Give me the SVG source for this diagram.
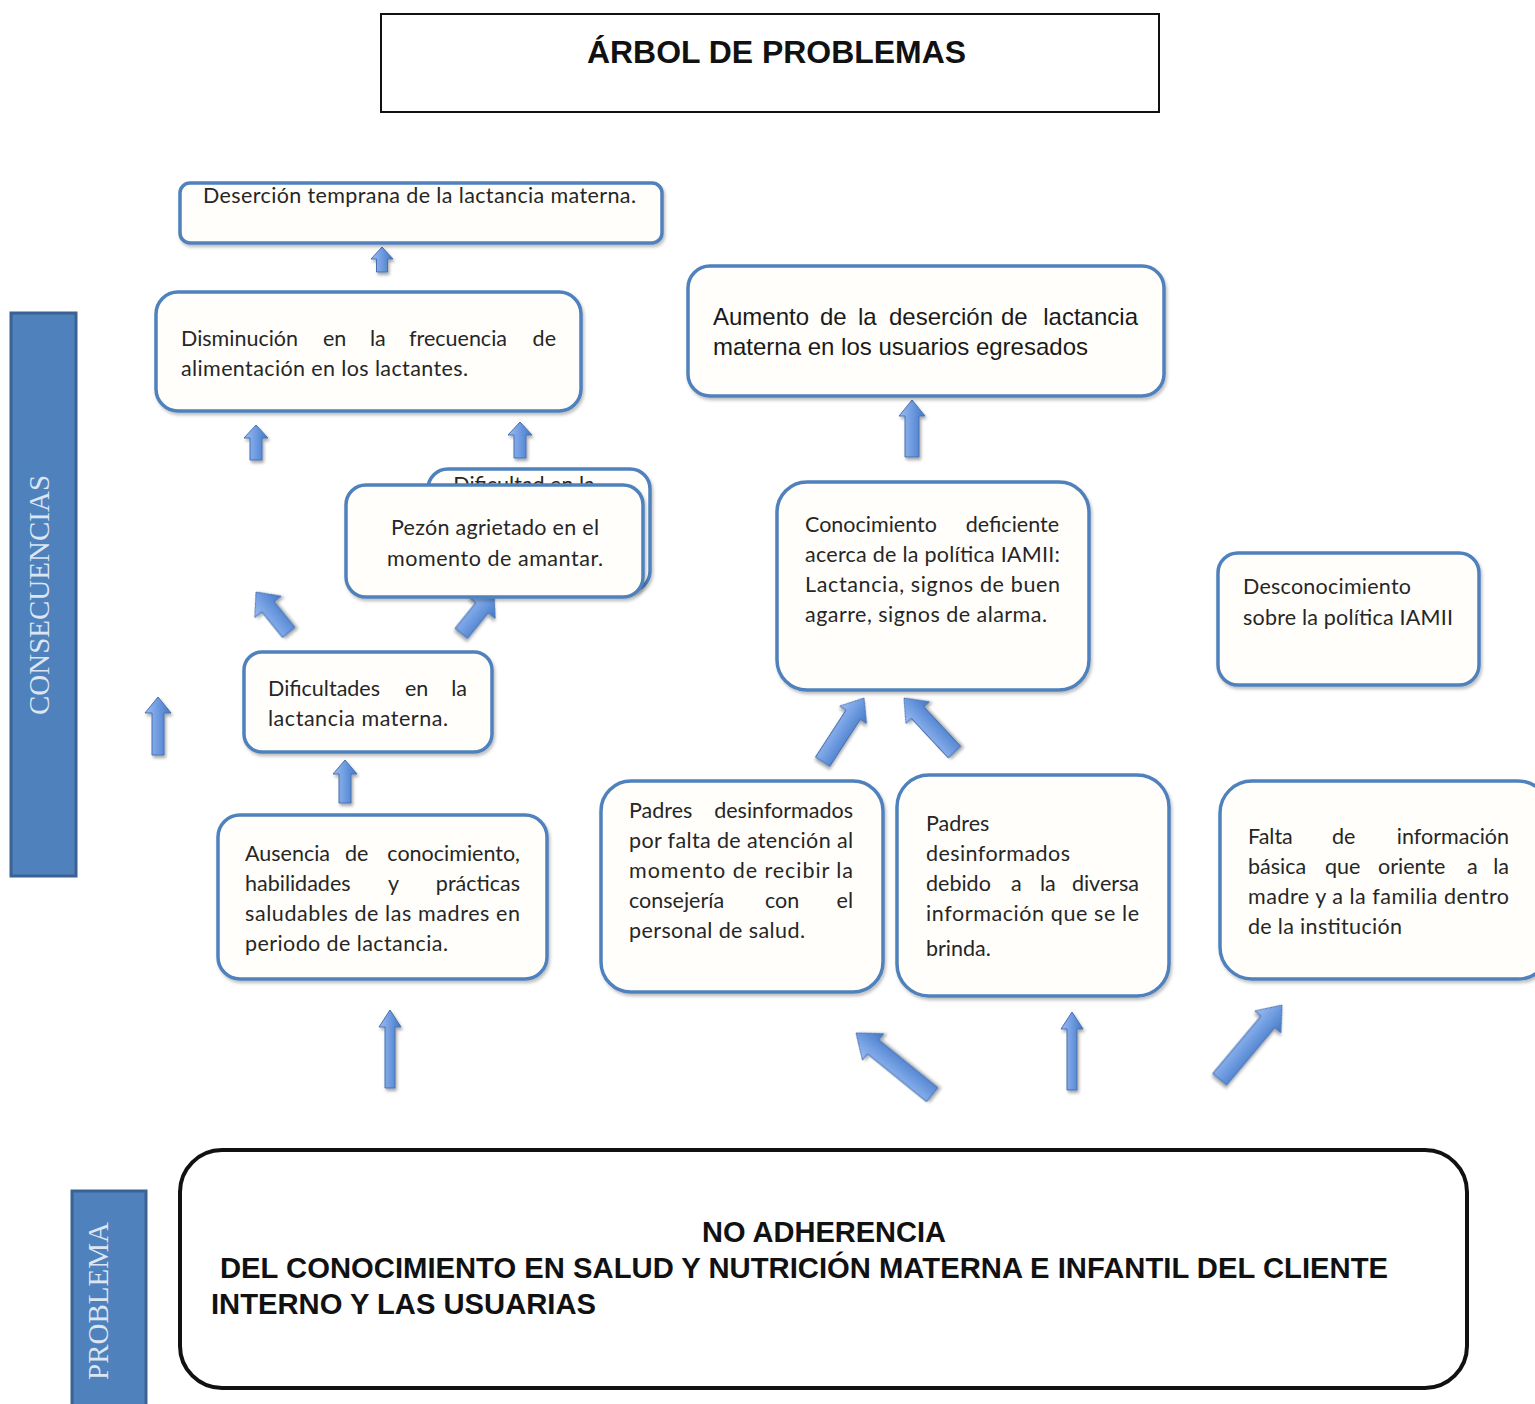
<svg xmlns="http://www.w3.org/2000/svg" width="1535" height="1404" viewBox="0 0 1535 1404">
<defs>
<style>
.box{fill:#FFFEFB;stroke:#4F81BD;stroke-width:3.5;filter:url(#sh)}
.t{font-family:Lato,"Open Sans",sans-serif;font-size:21.5px;fill:#262626}
.e{text-anchor:end}
.ta{font-family:"Liberation Sans",Arial,sans-serif;font-size:24px;fill:#1a1a1a}
.hb{font-family:"Liberation Sans",Arial,sans-serif;font-weight:bold;fill:#111}
.bar{fill:#4F81BD;stroke:#3A6293;stroke-width:3}
.vt{font-family:"Liberation Serif","Times New Roman",serif;font-size:29px;fill:#DCE6F2}
.arr{fill:url(#ag);stroke:#4670B0;stroke-width:1;filter:url(#ash)}
</style>
<linearGradient id="ag" x1="0" y1="0" x2="1" y2="0">
<stop offset="0" stop-color="#9CBDF2"/>
<stop offset="0.5" stop-color="#6E9BE0"/>
<stop offset="1" stop-color="#4277C4"/>
</linearGradient>
<filter id="sh" x="-10%" y="-10%" width="120%" height="130%">
<feDropShadow dx="1.5" dy="2.5" stdDeviation="1.8" flood-color="#000" flood-opacity="0.25"/>
</filter>
<filter id="ash" x="-50%" y="-50%" width="200%" height="200%">
<feDropShadow dx="1.5" dy="2.5" stdDeviation="1.6" flood-color="#000" flood-opacity="0.35"/>
</filter>
</defs>

<g id="title">
<rect x="381" y="14" width="778" height="98" fill="#fff" stroke="#111" stroke-width="2"/>
<text class="hb" x="776.5" y="63" font-size="32" text-anchor="middle" textLength="379" lengthAdjust="spacingAndGlyphs">ÁRBOL DE PROBLEMAS</text>
</g>

<g id="label-consecuencias">
<rect class="bar" x="11" y="313" width="65" height="563"/>
<text class="vt" transform="translate(49,595) rotate(-90)" text-anchor="middle">CONSECUENCIAS</text>
</g>

<g id="label-problema">
<rect class="bar" x="72" y="1191" width="74" height="220"/>
<text class="vt" transform="translate(108,1301) rotate(-90)" text-anchor="middle">PROBLEMA</text>
</g>

<g id="connectors">
<path class="arr" transform="translate(382,247)" d="M0,0 L11,12 L5.5,12 L5.5,25 L-5.5,25 L-5.5,12 L-11,12 Z"/>
<path class="arr" transform="translate(256,425)" d="M0,0 L12,13 L6,13 L6,35 L-6,35 L-6,13 L-12,13 Z"/>
<path class="arr" transform="translate(520,422)" d="M0,0 L12,13 L6,13 L6,36 L-6,36 L-6,13 L-12,13 Z"/>
<path class="arr" transform="translate(158,697)" d="M0,0 L13,16 L6,16 L6,58 L-6,58 L-6,16 L-13,16 Z"/>
<path class="arr" transform="translate(345,760)" d="M0,0 L12,14 L6,14 L6,43 L-6,43 L-6,14 L-12,14 Z"/>
<path class="arr" transform="translate(912,400)" d="M0,0 L13,16 L7,16 L7,57 L-7,57 L-7,16 L-13,16 Z"/>
<path class="arr" transform="translate(390,1010)" d="M0,0 L11,17 L5,17 L5,78 L-5,78 L-5,17 L-11,17 Z"/>
<path class="arr" transform="translate(1072,1012)" d="M0,0 L11,17 L5,17 L5,78 L-5,78 L-5,17 L-11,17 Z"/>
<path class="arr" transform="translate(256,592) rotate(-39)" d="M0,0 L17,19 L8,19 L8,52 L-8,52 L-8,19 L-17,19 Z"/>
<path class="arr" transform="translate(494,593) rotate(39)" d="M0,0 L17,19 L8,19 L8,52 L-8,52 L-8,19 L-17,19 Z"/>
<path class="arr" transform="translate(864,698) rotate(33)" d="M0,0 L16,20 L8.5,20 L8.5,76 L-8.5,76 L-8.5,20 L-16,20 Z"/>
<path class="arr" transform="translate(904,698) rotate(-43)" d="M0,0 L16,20 L8.5,20 L8.5,74 L-8.5,74 L-8.5,20 L-16,20 Z"/>
<path class="arr" transform="translate(856,1033) rotate(-51)" d="M0,0 L17,22 L9,22 L9,98 L-9,98 L-9,22 L-17,22 Z"/>
<path class="arr" transform="translate(1282,1005) rotate(40)" d="M0,0 L17,22 L9,22 L9,97 L-9,97 L-9,22 L-17,22 Z"/>
</g>

<g id="n-desercion-temprana">
<rect class="box" x="180" y="183" width="482" height="60" rx="10"/>
<text class="t" x="203" y="203" textLength="433" lengthAdjust="spacing">Deserción temprana de la lactancia materna.</text>
</g>

<g id="n-disminucion">
<rect class="box" x="156" y="292" width="425" height="119" rx="22"/>
<text class="t" y="346"><tspan x="181">Disminución</tspan><tspan x="323">en</tspan><tspan x="370">la</tspan><tspan x="409">frecuencia</tspan></text>
<text class="t e" x="556" y="346">de</text>
<text class="t" x="181" y="376" textLength="287" lengthAdjust="spacing">alimentación en los lactantes.</text>
</g>

<g id="n-dificultad-back">
<rect class="box" x="428" y="469" width="222" height="122" rx="20"/>
<text class="t" x="524" y="492" text-anchor="middle">Dificultad en la</text>
</g>

<g id="n-pezon">
<rect class="box" x="346" y="485" width="297" height="112" rx="20"/>
<text class="t" x="495" y="535" text-anchor="middle" textLength="208" lengthAdjust="spacing">Pezón agrietado en el</text>
<text class="t" x="495" y="566" text-anchor="middle" textLength="216" lengthAdjust="spacing">momento de amantar.</text>
</g>

<g id="n-dificultades">
<rect class="box" x="244" y="652" width="248" height="100" rx="18"/>
<text class="t" y="696"><tspan x="268">Dificultades</tspan><tspan x="405">en</tspan></text>
<text class="t e" x="467" y="696">la</text>
<text class="t" x="268" y="726" textLength="180" lengthAdjust="spacing">lactancia materna.</text>
</g>

<g id="n-ausencia">
<rect class="box" x="218" y="815" width="329" height="164" rx="22"/>
<text class="t" y="861"><tspan x="245">Ausencia</tspan><tspan x="345">de</tspan></text>
<text class="t e" x="520" y="861">conocimiento,</text>
<text class="t" y="891"><tspan x="245">habilidades</tspan><tspan x="388">y</tspan></text>
<text class="t e" x="520" y="891">prácticas</text>
<text class="t" x="245" y="921" textLength="275" lengthAdjust="spacing">saludables de las madres en</text>
<text class="t" x="245" y="951" textLength="203" lengthAdjust="spacing">periodo de lactancia.</text>
</g>

<g id="n-aumento">
<rect class="box" x="688" y="266" width="476" height="130" rx="22"/>
<text class="ta" y="325"><tspan x="713">Aumento</tspan><tspan x="820">de</tspan><tspan x="858">la</tspan><tspan x="889">deserción</tspan><tspan x="1001">de</tspan></text>
<text class="ta e" x="1138" y="325">lactancia</text>
<text class="ta" x="713" y="355" textLength="375" lengthAdjust="spacing">materna en los usuarios egresados</text>
</g>

<g id="n-conocimiento">
<rect class="box" x="777" y="482" width="312" height="208" rx="30"/>
<text class="t" x="805" y="532">Conocimiento</text>
<text class="t e" x="1059" y="532">deficiente</text>
<text class="t" x="805" y="562" textLength="255" lengthAdjust="spacing">acerca de la política IAMII:</text>
<text class="t" x="805" y="592" textLength="255" lengthAdjust="spacing">Lactancia, signos de buen</text>
<text class="t" x="805" y="622" textLength="242" lengthAdjust="spacing">agarre, signos de alarma.</text>
</g>

<g id="n-desconocimiento">
<rect class="box" x="1218" y="553" width="261" height="132" rx="20"/>
<text class="t" x="1243" y="594" textLength="168" lengthAdjust="spacing">Desconocimiento</text>
<text class="t" x="1243" y="625" textLength="210" lengthAdjust="spacing">sobre la política IAMII</text>
</g>

<g id="n-padres-atencion">
<rect class="box" x="601" y="781" width="282" height="211" rx="30"/>
<text class="t" x="629" y="818">Padres</text>
<text class="t e" x="853" y="818">desinformados</text>
<text class="t" x="629" y="848" textLength="224" lengthAdjust="spacing">por falta de atención al</text>
<text class="t" x="629" y="878" textLength="224" lengthAdjust="spacing">momento de recibir la</text>
<text class="t" y="908"><tspan x="629">consejería</tspan><tspan x="765">con</tspan></text>
<text class="t e" x="853" y="908">el</text>
<text class="t" x="629" y="938" textLength="176" lengthAdjust="spacing">personal de salud.</text>
</g>

<g id="n-padres-diversa">
<rect class="box" x="897" y="775" width="272" height="221" rx="32"/>
<text class="t" x="926" y="831">Padres</text>
<text class="t" x="926" y="861" textLength="144" lengthAdjust="spacing">desinformados</text>
<text class="t" y="891"><tspan x="926">debido</tspan><tspan x="1011">a</tspan><tspan x="1040">la</tspan></text>
<text class="t e" x="1139" y="891">diversa</text>
<text class="t" x="926" y="921" textLength="213" lengthAdjust="spacing">información que se le</text>
<text class="t" x="926" y="956">brinda.</text>
</g>

<g id="n-falta-informacion">
<rect class="box" x="1220" y="781" width="330" height="198" rx="32"/>
<text class="t" y="844"><tspan x="1248">Falta</tspan><tspan x="1332">de</tspan></text>
<text class="t e" x="1509" y="844">información</text>
<text class="t" y="874"><tspan x="1248">básica</tspan><tspan x="1325">que</tspan><tspan x="1378">oriente</tspan><tspan x="1467">a</tspan></text>
<text class="t e" x="1509" y="874">la</text>
<text class="t" x="1248" y="904" textLength="261" lengthAdjust="spacing">madre y a la familia dentro</text>
<text class="t" x="1248" y="934" textLength="154" lengthAdjust="spacing">de la institución</text>
</g>

<g id="n-problema">
<rect x="180" y="1150" width="1287" height="238" rx="42" fill="#fff" stroke="#111" stroke-width="4"/>
<text class="hb" x="824" y="1242" font-size="29" text-anchor="middle" textLength="244" lengthAdjust="spacingAndGlyphs">NO ADHERENCIA</text>
<text class="hb" x="220" y="1278" font-size="29" textLength="1168" lengthAdjust="spacingAndGlyphs">DEL CONOCIMIENTO EN SALUD Y NUTRICIÓN MATERNA E INFANTIL DEL CLIENTE</text>
<text class="hb" x="211" y="1314" font-size="29" textLength="385" lengthAdjust="spacingAndGlyphs">INTERNO Y LAS USUARIAS</text>
</g>
</svg>
